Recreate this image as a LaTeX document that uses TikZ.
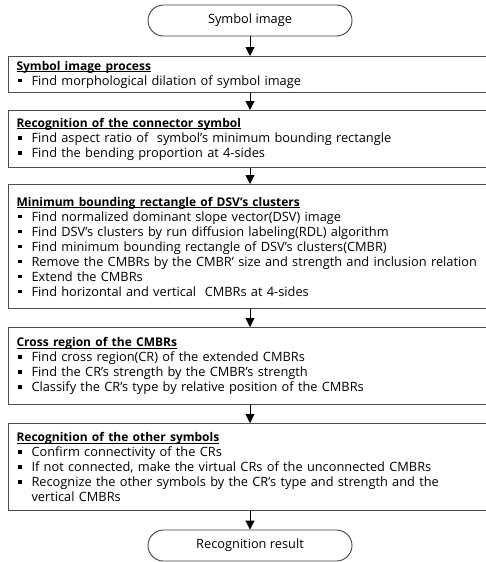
\documentclass[tikz,border=0pt]{standalone}
\usepackage{fontspec}
\setmainfont{Open Sans}
\usetikzlibrary{arrows.meta,positioning}
\newcommand\bitem[1]{\par\noindent\makebox[15pt][l]{\hspace{1.5pt}\rule[2.6pt]{3.8pt}{3.8pt}}\parbox[t]{\dimexpr\linewidth-15pt\relax}{\raggedright #1}}
\newcommand\btitle[1]{\noindent{\fontsize{12}{15}\selectfont\setbox0\hbox{\textbf{#1}}\rlap{\rule[-1.8pt]{\wd0}{0.8pt}}\box0}}
\tikzset{
  term/.style={draw=black!75, line width=0.9pt, rounded corners=15.5pt, minimum width=204pt, minimum height=31pt, inner sep=0pt, font=\fontsize{12.8}{15}\selectfont},
  pbox/.style={draw=black!70, line width=1.1pt, anchor=north west, text width=464pt, inner xsep=8pt, inner ysep=4pt, align=left, font=\fontsize{12.8}{15}\selectfont},
  flow/.style={-{Triangle[width=9pt,length=9pt]}, line width=0.9pt, black}
}
\begin{document}
\begin{tikzpicture}[x=1pt,y=1pt]
\useasboundingbox (0,0) rectangle (486,-562);
\clip (0,0) rectangle (486,-562);
\node[term] (start) at (250,-20.5) {Symbol image};
\node[pbox, minimum height=36pt] (b1) at (8,-56) {\btitle{Symbol image process}\bitem{Find morphological dilation of symbol image}};
\node[pbox, minimum height=57pt] (b2) at (8,-110) {\btitle{Recognition of the connector symbol}\bitem{Find aspect ratio of\ \ symbol's minimum bounding rectangle}\bitem{Find the bending proportion at 4-sides}};
\node[pbox, minimum height=124pt] (b3) at (8,-184) {\btitle{Minimum bounding rectangle of DSV's clusters}\bitem{Find normalized dominant slope vector(DSV) image}\bitem{Find DSV's clusters by run diffusion labeling(RDL) algorithm}\bitem{Find minimum bounding rectangle of DSV's clusters(CMBR)}\bitem{Remove the CMBRs by the CMBR' size and strength and inclusion relation}\bitem{Extend the CMBRs}\bitem{Find horizontal and vertical\ \ CMBRs at 4-sides}};
\node[pbox, minimum height=77pt] (b4) at (8,-327) {\btitle{Cross region of the CMBRs}\bitem{Find cross region(CR) of the extended CMBRs}\bitem{Find the CR's strength by the CMBR's strength}\bitem{Classify the CR's type by relative position of the CMBRs}};
\node[pbox, minimum height=87pt] (b5) at (8,-423) {\btitle{Recognition of the other symbols}\bitem{Confirm connectivity of the CRs}\bitem{If not connected, make the virtual CRs of the unconnected CMBRs}\bitem{Recognize the other symbols by the CR's type and strength and the vertical CMBRs}};
\node[term] (end) at (250,-545.5) {Recognition result};
\draw[flow] (start.south) -- (start.south |- b1.north);
\draw[flow] (start.south |- b1.south) -- (start.south |- b2.north);
\draw[flow] (start.south |- b2.south) -- (start.south |- b3.north);
\draw[flow] (start.south |- b3.south) -- (start.south |- b4.north);
\draw[flow] (start.south |- b4.south) -- (start.south |- b5.north);
\draw[flow] (start.south |- b5.south) -- (end.north);
\end{tikzpicture}
\end{document}
